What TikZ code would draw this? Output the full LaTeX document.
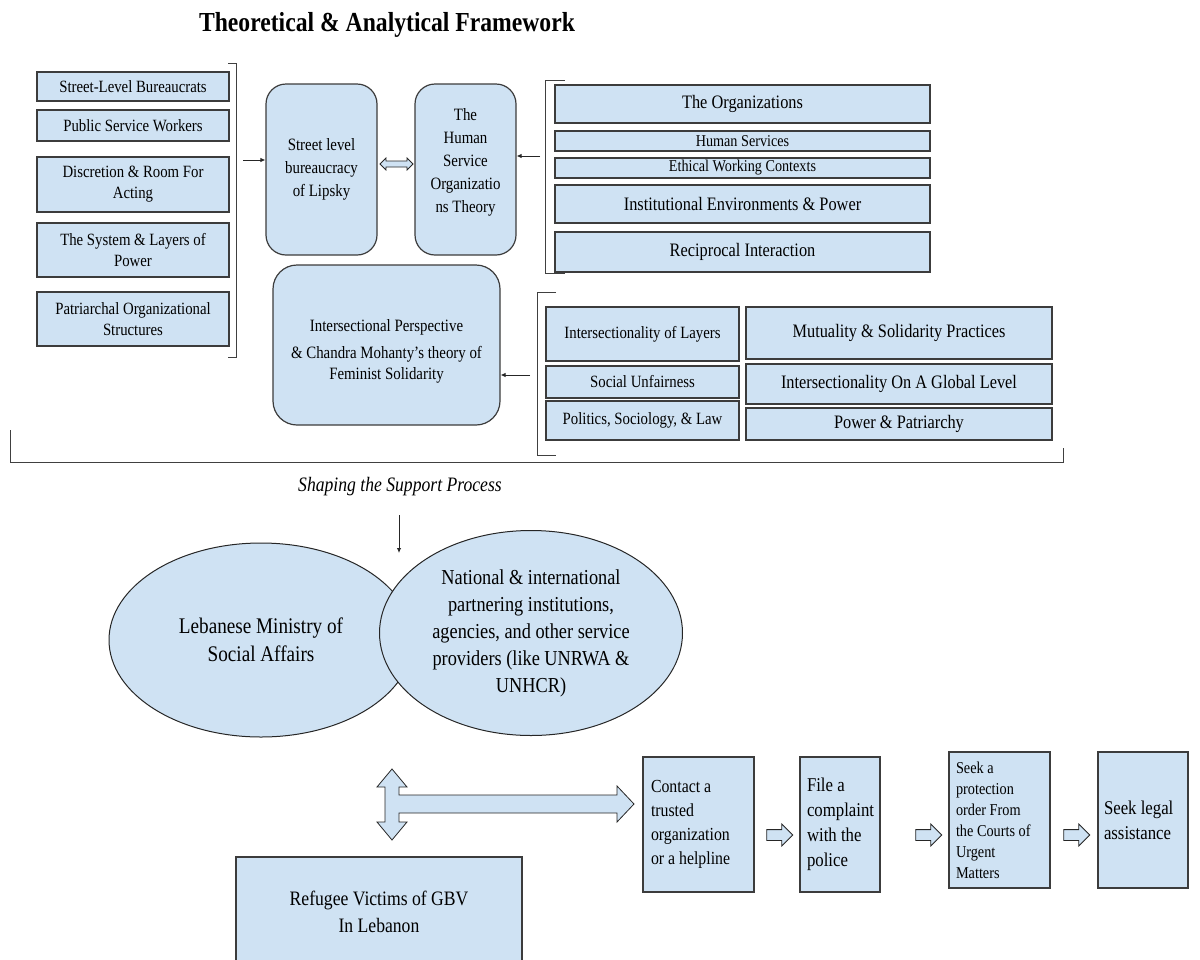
\documentclass[tikz,border=0pt]{standalone}
\usepackage{fontspec}
\setmainfont[FakeStretch=0.86]{Liberation Serif}
\usetikzlibrary{shapes.geometric,shapes.arrows,arrows.meta}
\definecolor{boxblue}{HTML}{CFE2F3}
\definecolor{edge}{HTML}{3C3C3C}
\tikzset{
  box/.style={draw=edge, fill=boxblue, line width=1.2pt, align=center, inner sep=1.5pt},
  rbox/.style={box, rounded corners=20pt},
  oval/.style={ellipse, draw=black!85, fill=boxblue, line width=1pt, align=center, inner sep=0pt},
  stepbox/.style={box, align=flush left, anchor=center, inner xsep=9pt},
  link/.style={draw=black!85, line width=0.9pt, -{Latex[length=5pt,width=4.5pt]}},
  brace/.style={draw=black!75, line width=1pt},
  hollow/.style={single arrow, draw=black!85, fill=boxblue, line width=0.8pt,
    minimum height=26pt, inner xsep=0pt, inner ysep=5pt, single arrow head extend=5.5pt},
  dhollow/.style={double arrow, draw=black!85, fill=boxblue, line width=0.8pt,
    minimum height=33pt, inner xsep=0pt, inner ysep=2.6pt, double arrow head extend=3pt},
}
\begin{document}
\begin{tikzpicture}[x=1pt,y=-1pt]
\useasboundingbox (0,0) rectangle (1200,959);

% title
\node[font=\fontsize{27.5}{30}\selectfont\bfseries] (title) at (387,25) {Theoretical \& Analytical Framework};

% left column of concepts
\begin{scope}[every node/.append style={font=\fontsize{17.2}{21}\selectfont}]
\node[box, minimum width=192pt, minimum height=29pt] (l1) at (133,86.5) {Street-Level Bureaucrats};
\node[box, minimum width=192pt, minimum height=31pt] (l2) at (133,125.5) {Public Service Workers};
\node[box, minimum width=192pt, minimum height=55pt] (l3) at (133,184.5) {Discretion \& Room For\\Acting};
\node[box, minimum width=192pt, minimum height=54pt] (l4) at (133,250) {The System \& Layers of\\Power};
\node[box, minimum width=192pt, minimum height=54pt] (l5) at (133,319) {Patriarchal Organizational\\Structures};
\end{scope}
\draw[brace] (228,63) -- (236,63) -- (236,357) -- (228,357);
\coordinate (lb) at (243,160);

% theories
\begin{scope}[every node/.append style={font=\fontsize{17.3}{23}\selectfont}]
\node[rbox, minimum width=111pt, minimum height=171pt] (lipsky) at (321.5,169.5) {Street level\\bureaucracy\\of Lipsky};
\node[rbox, minimum width=101pt, minimum height=171pt] (hso) at (465.5,169.5) {The\\Human\\Service\\Organizatio\\ns Theory\\[-4pt]};
\node[rbox, minimum width=227pt, minimum height=160pt, rounded corners=24pt, font=\fontsize{17.3}{21}\selectfont] (inter) at (386.5,345) {\rule{0pt}{25pt}Intersectional Perspective\\[6pt]\& Chandra Mohanty’s theory of\\Feminist Solidarity};
\end{scope}
\draw[link] (lb) -- (lipsky.west |- lb);
\node[dhollow] (dbl) at (396.5,164) {};

% organisational concepts
\node[box, minimum width=375pt, minimum height=38pt, font=\fontsize{19}{22}\selectfont] (r1) at (742.5,104) {The Organizations};
\node[box, minimum width=375pt, minimum height=20pt, inner ysep=0pt, font=\fontsize{16.5}{18}\selectfont] (r2) at (742.5,141) {Human Services};
\node[box, minimum width=375pt, minimum height=20pt, inner ysep=0pt, font=\fontsize{16.5}{18}\selectfont] (r3) at (742.5,168) {Ethical Working Contexts};
\node[box, minimum width=375pt, minimum height=38pt, font=\fontsize{19}{22}\selectfont] (r4) at (742.5,204) {Institutional Environments \& Power};
\node[box, minimum width=375pt, minimum height=40pt, font=\fontsize{19}{22}\selectfont] (r5) at (742.5,252) {Reciprocal Interaction};
\draw[brace] (565,80) -- (545,80) -- (545,273) -- (565,273);
\coordinate (rb) at (540,156);
\draw[link] (rb) -- (hso.east |- rb);

% intersectional concepts
\begin{scope}[every node/.append style={font=\fontsize{17.2}{21}\selectfont}]
\node[box, minimum width=193pt, minimum height=54pt] (b1) at (642.5,334) {Intersectionality of Layers};
\node[box, minimum width=193pt, minimum height=32pt] (b2) at (642.5,382) {Social Unfairness};
\node[box, minimum width=193pt, minimum height=39pt] (b3) at (642.5,420.5) {Politics, Sociology, \& Law};
\end{scope}
\begin{scope}[every node/.append style={font=\fontsize{19}{22}\selectfont}]
\node[box, minimum width=306pt, minimum height=52pt] (c1) at (899,333) {Mutuality \& Solidarity Practices};
\node[box, minimum width=306pt, minimum height=40pt] (c2) at (899,384) {Intersectionality On A Global Level};
\node[box, minimum width=306pt, minimum height=32pt] (c3) at (899,424) {Power \& Patriarchy};
\end{scope}
\draw[brace] (556,292) -- (537,292) -- (537,455) -- (556,455);
\coordinate (bb) at (530,375);
\draw[link] (bb) -- (inter.east |- bb);

% overall brace
\draw[brace] (10,430) -- (10,462) -- (1063,462) -- (1063,448);

% support process
\node[font=\fontsize{20.5}{24}\selectfont\itshape] (shape) at (400,487) {Shaping the Support Process};
\coordinate (sa) at (399,515);
\coordinate (sb) at (399,553);
\draw[link] (sa) -- (sb);

\node[oval, minimum width=304pt, minimum height=194pt, font=\fontsize{22.3}{28}\selectfont] (mosa) at (261,640) {Lebanese Ministry of\\Social Affairs};
\node[oval, minimum width=303pt, minimum height=205pt, font=\fontsize{21.3}{27}\selectfont] (ngo) at (531,633) {National \& international\\partnering institutions,\\agencies, and other service\\providers (like UNRWA \&\\UNHCR)};

% two-way link between the institutions and the victims, with the path to the first step
\draw[draw=black!85, fill=boxblue, line width=0.8pt]
  (392,769) -- (407,787) -- (399,787) -- (399,795) -- (617,795) -- (617,786)
  -- (634,804) -- (617,822) -- (617,813) -- (399,813) -- (399,822) -- (407,822)
  -- (392,840) -- (377,822) -- (385,822) -- (385,787) -- (377,787) -- cycle;

\node[box, minimum width=286pt, minimum height=110pt, font=\fontsize{20.5}{27}\selectfont] (victims) at (379,912) {Refugee Victims of GBV\\In Lebanon};

% steps
\node[stepbox, text width=95pt, minimum height=135pt, font=\fontsize{18.4}{24}\selectfont, inner xsep=8pt] (s1) at (698.5,824.5) {Contact a\\trusted\\organization\\or a helpline};
\node[stepbox, text width=66pt, minimum height=135pt, font=\fontsize{19.5}{25}\selectfont, inner xsep=7pt] (s2) at (840,824.5) {File a\\complaint\\with the\\police};
\node[stepbox, text width=87pt, minimum height=136pt, font=\fontsize{16.6}{21}\selectfont, inner xsep=7pt] (s3) at (999.5,820) {Seek a\\protection\\order From\\the Courts of\\Urgent\\Matters};
\node[stepbox, text width=78pt, minimum height=136pt, font=\fontsize{19.5}{25}\selectfont, inner xsep=6pt] (s4) at (1143,820) {Seek legal\\assistance};

\node[hollow] (h1) at (777,835) {};
\node[hollow] (h2) at (926,835) {};
\node[hollow] (h3) at (1074,835) {};
\end{tikzpicture}
\end{document}
